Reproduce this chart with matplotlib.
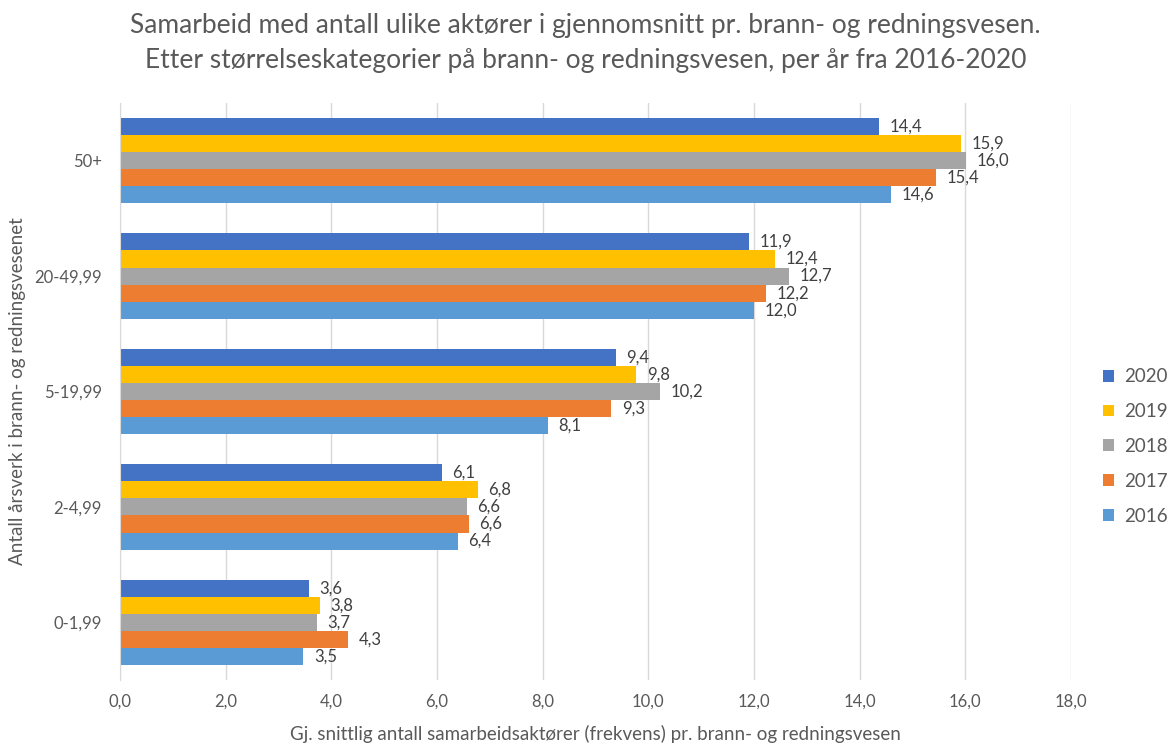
import matplotlib
matplotlib.use("Agg")
import matplotlib.pyplot as plt
import numpy as np

plt.rcParams['font.family'] = ['Lato', 'DejaVu Sans']

categories = ['0-1,99', '2-4,99', '5-19,99', '20-49,99', '50+']
years = ['2020', '2019', '2018', '2017', '2016']
v2020 = [3.57, 6.09, 9.38, 11.90, 14.36]
v2019 = [3.78, 6.77, 9.77, 12.39, 15.92]
v2018 = [3.72, 6.56, 10.23, 12.66, 16.01]
v2017 = [4.31, 6.60, 9.30, 12.22, 15.44]
v2016 = [3.47, 6.39, 8.10, 12.01, 14.59]
series = [v2020, v2019, v2018, v2017, v2016]
colors = ['#4472C4', '#FFC000', '#A5A5A5', '#ED7D31', '#5B9BD5']
xticks = [0, 2, 4, 6, 8, 10, 12, 14, 16, 18]

txt = '#595959'
fig = plt.figure(figsize=(11.71, 7.44), dpi=100)
ax = fig.add_axes([0.1025, 0.086, 0.812, 0.7756])

y = np.arange(len(categories))
h = 0.148
offsets = [2, 1, 0, -1, -2]
for vals, col, yr, off in zip(series, colors, years, offsets):
    bars = ax.barh(y + off * h, vals, height=h, color=col, label=yr, zorder=3)
    for b, v in zip(bars, vals):
        ax.text(b.get_width() + 0.2, b.get_y() + b.get_height() / 2,
                f"{v:.1f}".replace('.', ','), va='center', ha='left',
                fontsize=12, color='#404040', zorder=4)

ax.set_xlim(0, 18)
ax.set_ylim(-0.5, 4.5)
ax.set_xticks(xticks)
ax.set_xticklabels([f"{t:.1f}".replace('.', ',') for t in xticks], fontsize=12, color=txt)
ax.set_yticks(y)
ax.set_yticklabels(categories, fontsize=12, color=txt)
ax.tick_params(axis='x', length=0, pad=10)
ax.tick_params(axis='y', length=0, pad=13)
ax.grid(axis='x', color='#D9D9D9', linewidth=1, zorder=0)
for s in ['top', 'right', 'bottom']:
    ax.spines[s].set_visible(False)
ax.spines['left'].set_color('#D9D9D9')
ax.spines['left'].set_zorder(5)

ax.set_xlabel('Gj. snittlig antall samarbeidsaktører (frekvens) pr. brann- og redningsvesen',
              fontsize=13.5, color=txt, labelpad=11)
ax.set_ylabel('Antall årsverk i brann- og redningsvesenet', fontsize=13.5, color=txt, labelpad=6)

fig.suptitle('Samarbeid med antall ulike aktører i gjennomsnitt pr. brann- og redningsvesen.\n'
             'Etter størrelseskategorier på brann- og redningsvesen, per år fra 2016-2020',
             fontsize=19, color=txt, y=0.982, linespacing=1.5)

leg = fig.legend(*ax.get_legend_handles_labels(), loc='center left',
                 bbox_to_anchor=(0.942, 0.40), bbox_transform=fig.transFigure,
                 frameon=False, fontsize=13.5, handlelength=0.6, handleheight=0.6,
                 labelspacing=0.95, handletextpad=0.5, borderaxespad=0, borderpad=0)
for t in leg.get_texts():
    t.set_color(txt)

fig.savefig('out.png', dpi=100)
